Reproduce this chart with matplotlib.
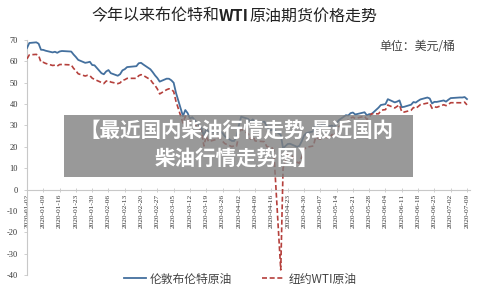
import matplotlib
matplotlib.use("Agg")
import matplotlib.pyplot as plt
import matplotlib.dates as mdates
from matplotlib.patches import Rectangle
import pandas as pd

# ---------------- data ----------------
dates = [
    "2020-01-02","2020-01-03","2020-01-06","2020-01-07","2020-01-08","2020-01-09","2020-01-10",
    "2020-01-13","2020-01-14","2020-01-15","2020-01-16","2020-01-17","2020-01-21","2020-01-22",
    "2020-01-23","2020-01-24","2020-01-27","2020-01-28","2020-01-29","2020-01-30","2020-01-31",
    "2020-02-03","2020-02-04","2020-02-05","2020-02-06","2020-02-07","2020-02-10","2020-02-11",
    "2020-02-12","2020-02-13","2020-02-14","2020-02-18","2020-02-19","2020-02-20","2020-02-21",
    "2020-02-24","2020-02-25","2020-02-26","2020-02-27","2020-02-28",
    "2020-03-02","2020-03-03","2020-03-04","2020-03-05","2020-03-06","2020-03-09","2020-03-10",
    "2020-03-11","2020-03-12","2020-03-13","2020-03-16","2020-03-17","2020-03-18","2020-03-19",
    "2020-03-20","2020-03-23","2020-03-24","2020-03-25","2020-03-26","2020-03-27","2020-03-30",
    "2020-03-31",
    "2020-04-01","2020-04-02","2020-04-03","2020-04-06","2020-04-07","2020-04-08","2020-04-09",
    "2020-04-13","2020-04-14","2020-04-15","2020-04-16","2020-04-17","2020-04-20","2020-04-21",
    "2020-04-22","2020-04-23","2020-04-24","2020-04-27","2020-04-28","2020-04-29","2020-04-30",
    "2020-05-01","2020-05-04","2020-05-05","2020-05-06","2020-05-07","2020-05-08","2020-05-11",
    "2020-05-12","2020-05-13","2020-05-14","2020-05-15","2020-05-18","2020-05-19","2020-05-20",
    "2020-05-21","2020-05-22","2020-05-26","2020-05-27","2020-05-28","2020-05-29",
    "2020-06-01","2020-06-02","2020-06-03","2020-06-04","2020-06-05","2020-06-08","2020-06-09",
    "2020-06-10","2020-06-11","2020-06-12","2020-06-15","2020-06-16","2020-06-17","2020-06-18",
    "2020-06-19","2020-06-22","2020-06-23","2020-06-24","2020-06-25","2020-06-26","2020-06-29",
    "2020-06-30",
    "2020-07-01","2020-07-02","2020-07-06","2020-07-07","2020-07-08","2020-07-09",
]

brent = [
    66.25,68.60,68.91,68.27,65.44,65.37,64.98,64.20,64.49,64.00,64.62,64.85,64.59,63.21,62.04,60.69,59.32,59.51,59.81,58.29,58.16,
    54.45,53.96,55.28,55.93,54.47,53.27,54.01,55.79,56.34,57.32,57.75,59.12,59.31,58.50,56.30,54.95,53.43,52.18,50.52,
    51.90,51.86,51.13,49.99,45.27,34.36,37.22,35.79,33.22,33.85,30.05,28.73,24.88,28.47,26.98,27.03,27.15,27.39,26.34,24.93,22.76,22.74,
    24.74,29.94,34.11,33.05,31.87,32.84,31.48,31.74,29.60,27.69,27.82,28.08,25.57,19.33,20.37,21.33,21.44,19.99,20.46,22.54,25.27,
    26.44,27.20,30.97,29.72,29.46,30.97,29.63,29.98,29.19,31.13,32.50,34.81,34.65,35.75,36.06,35.13,36.17,34.74,35.29,35.33,
    38.32,39.57,39.79,39.99,42.30,40.80,41.18,41.73,38.55,38.73,39.72,40.96,40.71,41.51,42.19,43.08,42.63,40.31,41.05,41.02,41.71,41.15,
    42.03,42.80,43.10,43.08,43.29,42.35,
]

wti = [
    61.18,63.05,63.27,62.70,59.61,59.56,59.04,58.08,58.23,57.81,58.52,58.54,58.34,56.74,55.59,54.19,53.14,53.48,53.33,52.14,51.56,
    50.11,49.61,50.75,50.95,50.32,49.57,49.94,51.17,51.42,52.05,52.05,53.29,53.78,53.38,51.43,49.90,48.73,47.09,44.76,
    46.75,47.18,46.78,45.90,41.28,31.13,34.36,32.98,31.50,31.73,28.70,26.95,20.37,25.22,22.43,23.36,24.01,24.49,22.60,21.51,20.09,20.48,
    20.31,25.32,28.34,26.08,23.63,25.09,22.76,22.41,20.11,19.87,19.87,18.27,-37.63,10.01,13.78,16.50,16.94,12.78,12.34,15.06,18.84,
    19.78,20.39,24.56,23.99,23.55,24.74,24.14,25.78,25.29,27.56,29.43,31.82,32.50,33.49,33.92,33.25,34.35,32.81,33.71,35.49,
    35.44,36.81,37.29,37.41,39.55,38.19,38.94,39.60,36.34,36.26,37.12,38.38,37.96,38.84,39.75,40.46,40.37,38.01,38.72,38.49,39.70,39.27,
    39.82,40.65,40.63,40.62,40.90,39.62,
]

tick_dates = [
    "2020-01-02","2020-01-09","2020-01-16","2020-01-23","2020-01-30","2020-02-06","2020-02-13",
    "2020-02-20","2020-02-27","2020-03-05","2020-03-12","2020-03-19","2020-03-26","2020-04-02",
    "2020-04-09","2020-04-16","2020-04-23","2020-04-30","2020-05-07","2020-05-14","2020-05-21",
    "2020-05-28","2020-06-04","2020-06-11","2020-06-18","2020-06-25","2020-07-02","2020-07-09",
]
y_ticks = [-40, -30, -20, -10, 0, 10, 20, 30, 40, 50, 60, 70]

title_parts = ["今年以来布伦特和", "WTI", "原油期货价格走势"]
unit_text = "单位：美元/桶"
series_names = ["伦敦布伦特原油", "纽约WTI原油"]
wm_line1 = "【最近国内柴油行情走势,最近国内"
wm_line2 = "柴油行情走势图】"

# ---------------- figure ----------------
W, H = 478, 294
CJK = ["Noto Sans CJK SC", "DejaVu Sans"]
SERIF = ["Liberation Serif", "DejaVu Serif"]

def fx(x):
    return x / W

def fy(y):
    return 1 - y / H

fig = plt.figure(figsize=(W / 100, H / 100), dpi=100)
ax = fig.add_axes([fx(27), fy(275), (470 - 27) / W, (275 - 40) / H])

x = mdates.date2num(pd.to_datetime(dates))
xt = mdates.date2num(pd.to_datetime(tick_dates))

blue = "#44709E"
red = "#B5403C"
l1, = ax.plot(x, brent, color=blue, lw=1.3, zorder=3)
l2, = ax.plot(x, wti, color=red, lw=1.2, ls=(0, (3, 1.6)), zorder=3)

ax.set_xlim(xt[0], xt[0] + 190.3)
ax.set_ylim(-40, 70)

axis_gray = "#C8C8C8"
for s in ["top", "right"]:
    ax.spines[s].set_visible(False)
ax.spines["left"].set_color(axis_gray)
ax.spines["bottom"].set_color(axis_gray)
ax.spines["bottom"].set_position(("data", 0))
ax.spines["left"].set_linewidth(0.8)
ax.spines["bottom"].set_linewidth(0.8)

ax.set_yticks(y_ticks)
ax.set_yticklabels([str(v) for v in y_ticks], fontfamily=SERIF, fontsize=6, color="#333333")
ax.tick_params(axis="y", length=2.5, width=0.6, color=axis_gray, pad=4)

ax.set_xticks(xt)
ax.set_xticklabels(tick_dates, rotation=90, fontfamily=SERIF, fontsize=5.3, color="#333333")
ax.tick_params(axis="x", direction="inout", length=3.5, width=0.6, color=axis_gray, pad=1.5)

# title (WTI in bold), centred as a whole
renderer = fig.canvas.get_renderer()
pieces = []
for i, part in enumerate(title_parts):
    t = fig.text(0, fy(16), part, ha="left", va="center", fontsize=11.5,
                 family=CJK, color="#222222",
                 fontweight="bold" if part == "WTI" else "normal")
    pieces.append(t)
widths = [p.get_window_extent(renderer).width for p in pieces]
start = 234 - sum(widths) / 2
for p, w in zip(pieces, widths):
    p.set_x(fx(start))
    start += w

fig.text(fx(455), fy(46), unit_text, ha="right", va="center", fontsize=8.6,
         family=CJK, color="#444444")

# legend
leg = fig.legend([l1, l2], series_names, loc="center", ncol=2,
                 bbox_to_anchor=(fx(240), fy(279)), frameon=False,
                 prop={"family": CJK, "size": 8.5}, handlelength=1.9,
                 handletextpad=0.3, columnspacing=2.6, labelcolor="#444444")

# watermark overlay
fig.add_artist(Rectangle((fx(64), fy(177)), (413 - 64) / W, (177 - 115) / H,
                         transform=fig.transFigure, facecolor="#808080",
                         edgecolor="none", alpha=0.8, zorder=10))
fig.text(fx(237), fy(131), wm_line1, ha="center", va="center", fontsize=14.8,
         family=CJK, fontweight="bold", color="white", zorder=11)
fig.text(fx(237), fy(158), wm_line2, ha="center", va="center", fontsize=14.8,
         family=CJK, fontweight="bold", color="white", zorder=11)

fig.savefig("out.png", dpi=100)
